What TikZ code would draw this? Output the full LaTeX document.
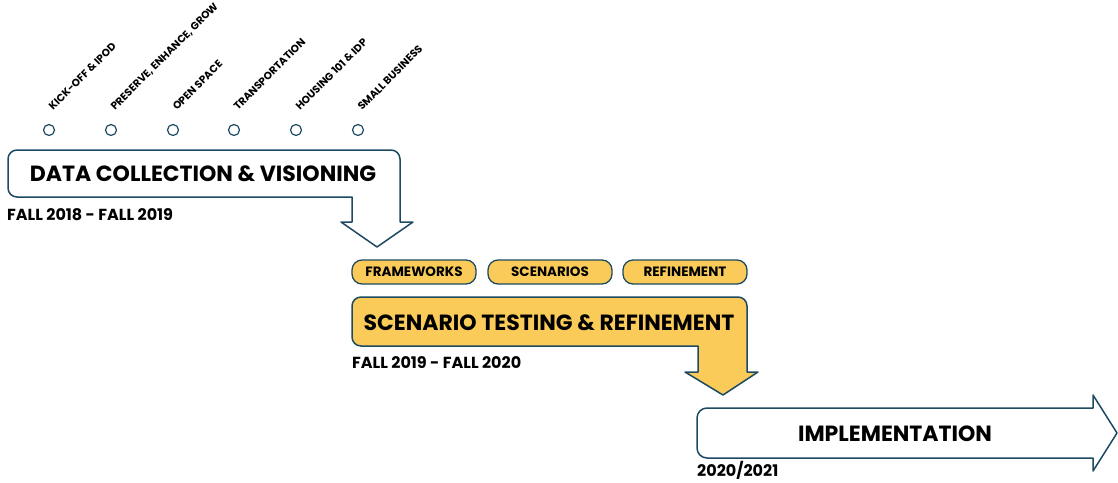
\documentclass[tikz,border=0pt]{standalone}
\usepackage{fontspec}
\setmainfont{Poppins}
\definecolor{navy}{HTML}{1D4A62}
\definecolor{gold}{HTML}{FACB58}
\begin{document}
\begin{tikzpicture}[x=1pt,y=-1pt,
  outline/.style={draw=navy, line width=1.5pt, line join=round},
  pill/.style={draw=navy, fill=gold, line width=1.3pt, rounded corners=10pt, minimum height=24pt, minimum width=124pt, inner sep=0pt, font=\bfseries\fontsize{13.5}{15}\selectfont},
  dot/.style={circle, draw=navy, line width=1.2pt, minimum size=11pt, inner sep=0pt},
  topic/.style={rotate=45, anchor=base west, inner sep=0pt, font=\bfseries\fontsize{10.5}{12}\selectfont},
  title/.style={inner sep=0pt, font=\bfseries\fontsize{22}{26}\selectfont},
  date/.style={anchor=west, inner sep=0pt, font=\bfseries\fontsize{16}{18}\selectfont}]
\useasboundingbox (0,0) rectangle (1118,482);

% milestones
\foreach \i/\x/\t in {1/49/KICK-OFF \& IPOD, 2/111/{PRESERVE, ENHANCE, GROW}, 3/173/OPEN SPACE, 4/234/TRANSPORTATION, 5/296/HOUSING 101 \& IDP, 6/358/SMALL BUSINESS}{
  \node[dot] (d\i) at (\x,130) {};
  \node[topic] (t\i) at (\x+4,111) {\t};
}

% stage 1
\draw[outline] (352,222) -- (352,197) -- (300,197) [rounded corners=9pt] -- (8,197) -- (8,150) -- (400,150) -- (400,185) [sharp corners] -- (400,222) -- (413,222) -- (377,247) -- (341,222) -- cycle;
\node[title] (s1) at (203,174) {DATA COLLECTION \& VISIONING};
\node[date] (y1) at (7,215) {FALL 2018 - FALL 2019};

% stage 2 sub-steps
\node[pill] (p1) at (414,272) {FRAMEWORKS};
\node[pill] (p2) at (550,272) {SCENARIOS};
\node[pill] (p3) at (685,272) {REFINEMENT};

% stage 2
\draw[outline, fill=gold] (698,372) -- (698,346) -- (650,346) [rounded corners=9pt] -- (352,346) -- (352,297) -- (747,297) -- (747,330) [sharp corners] -- (747,372) -- (758,372) -- (723,395) -- (685,372) -- cycle;
\node[title] (s2) at (549,323) {SCENARIO TESTING \& REFINEMENT};
\node[date] (y2) at (352,363) {FALL 2019 - FALL 2020};

% stage 3
\draw[outline, rounded corners=10pt] (900,458) -- (697,458) -- (697,408) -- (1000,408) [sharp corners] -- (1093,408) -- (1093,395) -- (1117,433) -- (1093,471) -- (1093,458) -- cycle;
\node[title] (s3) at (895,434) {IMPLEMENTATION};
\node[date] (y3) at (697,470) {2020/2021};
\end{tikzpicture}
\end{document}
